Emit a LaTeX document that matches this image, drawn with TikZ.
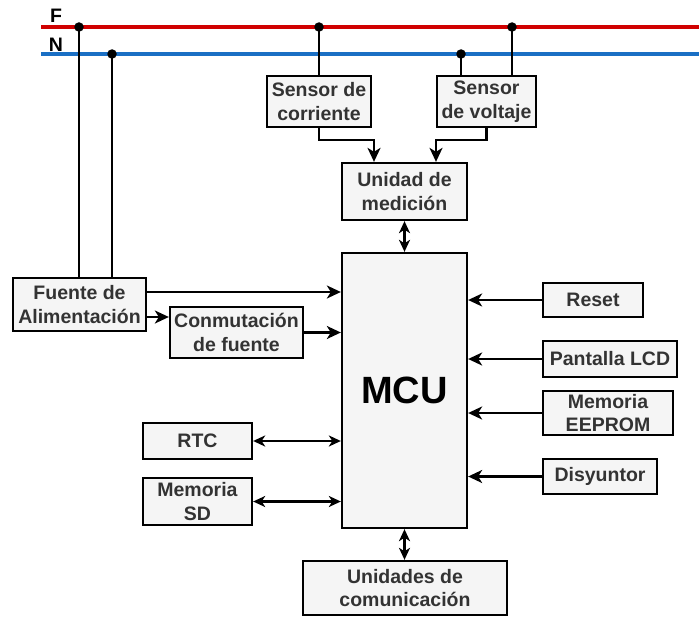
\documentclass[tikz,border=0pt]{standalone}
\usepackage{fontspec}
\setmainfont{Liberation Sans}
\usetikzlibrary{arrows.meta}
\definecolor{txt}{HTML}{333333}
\definecolor{boxfill}{HTML}{F5F5F5}
\definecolor{fase}{HTML}{D00000}
\definecolor{neutro}{HTML}{1A6FC4}
\begin{document}
\begin{tikzpicture}[x=1pt,y=-1pt,
  blk/.style={draw=black, line width=2.3pt, fill=boxfill, text=txt,
    font=\bfseries\fontsize{19.5}{23.5}\selectfont, align=center,
    inner sep=0pt, anchor=center},
  wire/.style={line width=2.2pt, draw=black},
  arr/.style={wire, -{Stealth[length=14pt,width=13pt,inset=4pt]}},
  darr/.style={wire, {Stealth[length=12pt,width=11pt,inset=3.5pt]}-{Stealth[length=12pt,width=11pt,inset=3.5pt]}},
  jdot/.style={circle, fill=black, inner sep=0pt, minimum size=9.5pt},
  lbl/.style={text=black, font=\bfseries\fontsize{19.5}{22}\selectfont, inner sep=0pt},
  faseline/.style={draw=fase, line width=3.8pt},
  neutroline/.style={draw=neutro, line width=3.8pt}]

\useasboundingbox (0,0) rectangle (699,618);

% power lines
\coordinate (fL) at (41,27);
\coordinate (fR) at (699,27);
\coordinate (nL) at (41,54);
\coordinate (nR) at (699,54);
\draw[faseline] (fL) -- (fR);
\draw[neutroline] (nL) -- (nR);
\node[lbl] (lf) at (56,16) {F};
\node[lbl] (ln) at (56,45) {N};

% junctions
\coordinate (j1) at (79,27);
\coordinate (j2) at (112,54);
\coordinate (j3) at (319,27);
\coordinate (j4) at (461,54);
\coordinate (j5) at (512,27);

% blocks
\node[blk, minimum width=104pt, minimum height=51pt] (sc) at (319,101.5) {Sensor de\\corriente};
\node[blk, minimum width=99pt, minimum height=51pt] (sv) at (486.5,101.5) {Sensor\\de voltaje};
\node[blk, minimum width=125pt, minimum height=57pt] (um) at (404.5,191.5) {Unidad de\\medición};
\node[blk, minimum width=125pt, minimum height=275pt, text=black,
      font=\bfseries\fontsize{38}{40}\selectfont] (mcu) at (404.5,390.5) {MCU};
\node[blk, minimum width=133pt, minimum height=53pt] (fa) at (79.5,304.5) {Fuente de\\Alimentación};
\node[blk, minimum width=133pt, minimum height=51pt] (cf) at (236.5,332.5) {Conmutación\\de fuente};
\node[blk, minimum width=100pt, minimum height=34pt] (reset) at (593,300) {Reset};
\node[blk, minimum width=134pt, minimum height=36pt] (lcd) at (610,359) {Pantalla LCD};
\node[blk, minimum width=130pt, minimum height=44pt] (eeprom) at (608,413) {Memoria\\EEPROM};
\node[blk, minimum width=114pt, minimum height=35pt] (disy) at (600,476.5) {Disyuntor};
\node[blk, minimum width=109pt, minimum height=36pt] (rtc) at (197.5,441) {RTC};
\node[blk, minimum width=109pt, minimum height=47pt] (sd) at (197.5,501.5) {Memoria\\SD};
\node[blk, minimum width=204pt, minimum height=54pt] (uc) at (405,588) {Unidades de\\comunicación};

% wires from the power lines
\draw[wire] (j1) -- (j1 |- fa.north);
\draw[wire] (j2) -- (j2 |- fa.north);
\draw[wire] (j3) -- (j3 |- sc.north);
\draw[wire] (j4) -- (j4 |- sv.north);
\draw[wire] (j5) -- (j5 |- sv.north);
\foreach \j in {j1,j2,j3,j4,j5} \node[jdot] at (\j) {};

% sensors to measuring unit
\draw[arr] (sc.south) -- ++(0,12) -| ([xshift=-30.5pt]um.north);
\draw[arr] (sv.south) -- ++(0,12) -| ([xshift=31.5pt]um.north);

% power supply
\draw[arr] (fa.east |- 0,292) -- (mcu.west |- 0,292);
\draw[arr] (fa.east |- 0,317) -- (cf.west |- 0,317);
\draw[arr] (cf.east) -- (mcu.west |- cf.east);

% right side inputs
\draw[arr] (reset.west) -- (mcu.east |- reset.west);
\draw[arr] (lcd.west) -- (mcu.east |- lcd.west);
\draw[arr] (eeprom.west) -- (mcu.east |- eeprom.west);
\draw[arr] (disy.west) -- (mcu.east |- disy.west);

% bidirectional
\draw[darr] (rtc.east) -- (mcu.west |- rtc.east);
\draw[darr] (sd.east) -- (mcu.west |- sd.east);
\draw[darr] (um.south) -- (mcu.north);
\draw[darr] (mcu.south) -- (uc.north -| mcu.south);
\end{tikzpicture}
\end{document}
